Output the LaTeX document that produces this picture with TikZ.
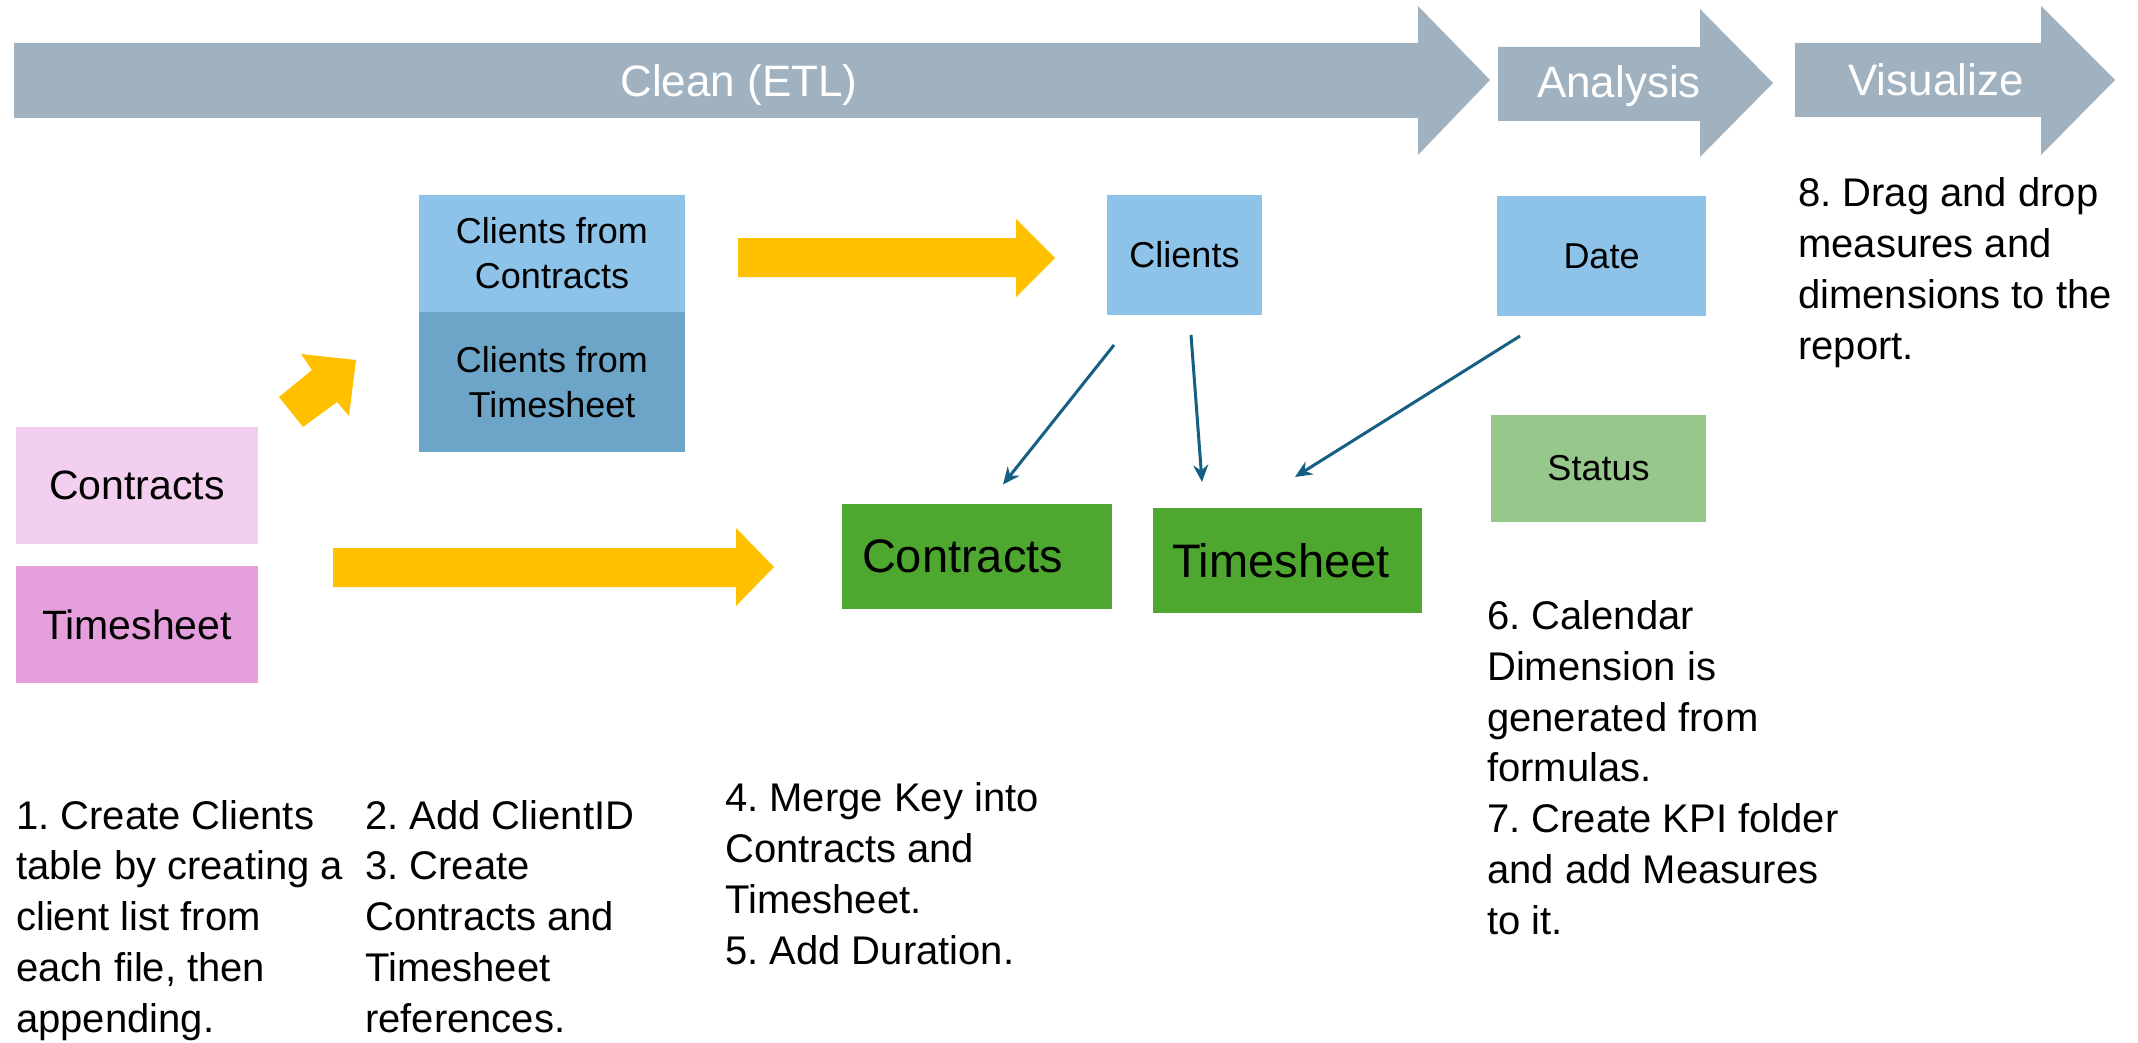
\documentclass[tikz,border=0pt]{standalone}
\usepackage{fontspec}
\setmainfont{Liberation Sans}
\frenchspacing
\usetikzlibrary{positioning,calc,arrows.meta}

\definecolor{bannergray}{HTML}{A0B1BF}
\definecolor{pinklight}{HTML}{F2CEEF}
\definecolor{pinkmid}{HTML}{E49FDC}
\definecolor{bluelight}{HTML}{8DC3E9}
\definecolor{bluemid}{HTML}{6CA5C7}
\definecolor{greenmid}{HTML}{4EA72E}
\definecolor{greenlight}{HTML}{96C78B}
\definecolor{arrowyellow}{HTML}{FFC000}
\definecolor{linkblue}{HTML}{156082}

\tikzset{
  box/.style={rectangle, inner sep=0pt, outer sep=0pt, align=center, font=\fontsize{36}{45}\selectfont},
  srcbox/.style={box, font=\fontsize{41}{50}\selectfont},
  factbox/.style={rectangle, fill=greenmid, inner xsep=20pt, inner ysep=0pt, outer sep=0pt,
    minimum height=105pt, align=left, font=\fontsize{47}{56}\selectfont},
  note/.style={inner sep=0pt, anchor=base west, align=left, font=\fontsize{40}{50.7}\selectfont},
  stage/.style={text=white, inner sep=0pt, anchor=base, font=\fontsize{44}{50}\selectfont},
  link/.style={linkblue, line width=3pt, -{Stealth[length=17pt,width=15pt]}}
}

\begin{document}
\begin{tikzpicture}[x=1pt,y=-1pt]
    \fill [white] (0,0) rectangle (2138,1043);
    \useasboundingbox (0,0) rectangle (2138,1043);

    % Stages
    \fill [bannergray] (14,43) -- (1418,43) -- (1418,6) -- (1490,80) -- (1418,155) -- (1418,118) -- (14,118) -- cycle;
    \node [stage] (clean) at (739,97) {Clean (ETL)};
    \fill [bannergray] (1498,47) -- (1700,47) -- (1700,9) -- (1773,83) -- (1700,157) -- (1700,121) -- (1498,121) -- cycle;
    \node [stage] (analysis) at (1619,98) {Analysis};
    \fill [bannergray] (1795,43) -- (2041,43) -- (2041,6) -- (2115,80) -- (2041,155) -- (2041,117) -- (1795,117) -- cycle;
    \node [stage] (visualize) at (1936,96) {Visualize};

    % Source files
    \node [srcbox, fill=pinklight, minimum width=242pt, minimum height=117pt] (srcContracts) at (137,485.5) {Contracts};
    \node [srcbox, fill=pinkmid, minimum width=242pt, minimum height=117pt] (srcTimesheet) at (137,624.5) {Timesheet};

    % Client lists
    \node [box, fill=bluelight, minimum width=266pt, minimum height=117pt] (fromContracts) at (552,253.5) {Clients from\\Contracts};
    \node [box, fill=bluemid, minimum width=266pt, minimum height=140pt, below=0pt of fromContracts] (fromTimesheet) {Clients from\\Timesheet};

    % Yellow steps
    \fill [arrowyellow] (279,397) -- (312,370) -- (301,354) -- (356,360) -- (349,416) -- (337,402) -- (303,427) -- cycle;
    \fill [arrowyellow] (738,238) -- (1016,238) -- (1016,219) -- (1055,258) -- (1016,297) -- (1016,277) -- (738,277) -- cycle;
    \fill [arrowyellow] (333,548) -- (736,548) -- (736,528) -- (774,567) -- (736,606) -- (736,587) -- (333,587) -- cycle;

    % Model tables
    \node [box, fill=bluelight, minimum width=155pt, minimum height=120pt] (clients) at (1184.5,255) {Clients};
    \node [box, fill=bluelight, minimum width=209pt, minimum height=120pt] (date) at (1601.5,256) {Date};
    \node [box, fill=greenlight, minimum width=215pt, minimum height=107pt] (status) at (1598.5,468.5) {Status};
    \node [factbox, text width=230pt] (contracts) at (977,556) {Contracts};
    \node [factbox, text width=231pt, inner xsep=19pt] (timesheet) at (1287.5,560.5) {Timesheet};

    % Relationships
    \draw [link] ([shift={(7,30)}]clients.south west) -- ([shift={(161,-19)}]contracts.north west);
    \draw [link] ([shift={(6.5,20)}]clients.south) -- ([shift={(49,-26)}]timesheet.north west);
    \draw [link] ([shift={(23,20)}]date.south west) -- ([shift={(142,-31)}]timesheet.north west);

    % Notes (placed at the baseline of the last line)
    \node [note] (noteOne) at (16,1032) {1. Create Clients\\table by creating a\\client list from\\each file, then\\appending.};
    \node [note] (noteTwo) at (365,1032) {2. Add ClientID\\3. Create\\Contracts and\\Timesheet\\references.};
    \node [note] (noteFour) at (725,964) {4. Merge Key into\\Contracts and\\Timesheet.\\5. Add Duration.};
    \node [note] (noteSix) at (1487,934) {6. Calendar\\Dimension is\\generated from\\formulas.\\7. Create KPI folder\\and add Measures\\to it.};
    \node [note] (noteEight) at (1798,359) {8. Drag and drop\\measures and\\dimensions to the\\report.};
\end{tikzpicture}
\end{document}
